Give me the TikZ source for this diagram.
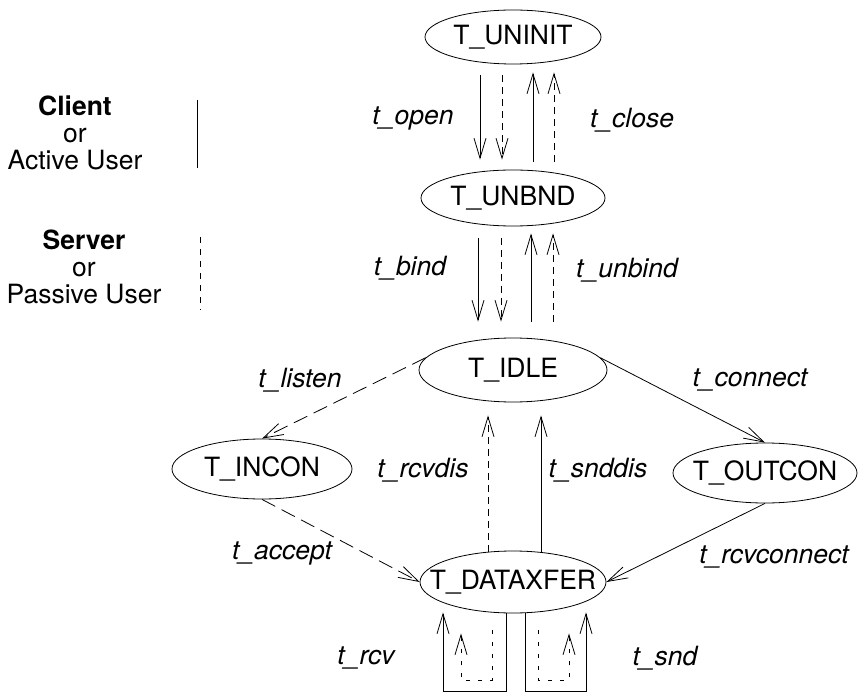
\documentclass[tikz,border=0pt]{standalone}
\usepackage{fontspec}
\setmainfont{TeX Gyre Heros}
\usetikzlibrary{shapes.geometric,arrows.meta,calc}

\begin{document}
\begin{tikzpicture}[x=1pt,y=-1pt,line width=0.8pt,
    font=\fontsize{26.5}{27}\selectfont,
    state/.style={draw,ellipse,inner sep=0pt},
    lbl/.style={font=\fontsize{26.5}{27}\selectfont\itshape},
    arr/.style={-{Straight Barb[length=20pt,width=12pt]}},
    shortdash/.style={dash pattern=on 7pt off 5pt},
    longdash/.style={dash pattern=on 15pt off 7pt},
    loopdash/.style={dash pattern=on 4pt off 8pt}]
    \useasboundingbox (0,0) rectangle (858,692);

    % states
    \node[state,minimum width=176pt,minimum height=54pt,label=center:T\_UNINIT] (uninit) at (513,37) {};
    \node[state,minimum width=184pt,minimum height=56pt,label=center:T\_UNBND] (unbnd) at (513,198) {};
    \node[state,minimum width=188pt,minimum height=64pt,label=center:T\_IDLE] (idle) at (513,370) {};
    \node[state,minimum width=180pt,minimum height=60pt,label=center:T\_INCON] (incon) at (262,469) {};
    \node[state,minimum width=184pt,minimum height=60pt,label=center:T\_OUTCON] (outcon) at (765,473) {};
    \node[state,minimum width=186pt,minimum height=62pt,label=center:T\_DATAXFER] (dataxfer) at (513,582) {};

    % t_open / t_close
    \draw[arr] ($(uninit.south)+(-33,11)$) -- ($(unbnd.north)+(-33,-10)$);
    \draw[arr,shortdash] ($(uninit.south)+(-11,11)$) -- ($(unbnd.north)+(-11,-10)$);
    \draw[arr] ($(unbnd.north)+(20,-8)$) -- ($(uninit.south)+(20,8)$);
    \draw[arr,shortdash] ($(unbnd.north)+(41,-8)$) -- ($(uninit.south)+(41,8)$);
    \node[lbl] (lopen) at (413,118) {t\_open};
    \node[lbl] (lclose) at (632,120) {t\_close};

    % t_bind / t_unbind
    \draw[arr] ($(unbnd.south)+(-35,12)$) -- ($(idle.north)+(-35,-16)$);
    \draw[arr,shortdash] ($(unbnd.south)+(-12,12)$) -- ($(idle.north)+(-12,-16)$);
    \draw[arr] ($(idle.north)+(18,-16)$) -- ($(unbnd.south)+(18,7)$);
    \draw[arr,shortdash] ($(idle.north)+(40,-16)$) -- ($(unbnd.south)+(40,7)$);
    \node[lbl] (lbind) at (410,268) {t\_bind};
    \node[lbl] (lunbind) at (627,270) {t\_unbind};

    % listen / connect / accept
    \draw[arr,longdash] (idle.172) -- (incon.north);
    \draw[arr] (idle.8) -- (outcon.north);
    \draw[arr,longdash] (incon.south) -- (dataxfer.west);
    \draw[arr] (outcon.south) -- (dataxfer.east);
    \node[lbl] (llisten) at (300,380) {t\_listen};
    \node[lbl] (lconnect) at (750,380) {t\_connect};
    \node[lbl] (laccept) at (282,553) {t\_accept};
    \node[lbl] (lrcvconnect) at (774,557) {t\_rcvconnect};

    % disconnect
    \draw[arr,shortdash] ($(dataxfer.north)+(-25,1)$) -- ($(idle.south)+(-25,13)$);
    \draw[arr] ($(dataxfer.north)+(28,1)$) -- ($(idle.south)+(28,13)$);
    \node[lbl] (lrcvdis) at (423,470) {t\_rcvdis};
    \node[lbl] (lsnddis) at (598,470) {t\_snddis};

    % data loops
    \draw[arr] ($(dataxfer.south)+(-7,0)$) -- ++(0,78) -| ($(dataxfer.south)+(-70,-1)$);
    \draw[arr,loopdash] ($(dataxfer.south)+(-21,17)$) -- ++(0,50) -| ($(dataxfer.south)+(-52,20)$);
    \draw[arr] ($(dataxfer.south)+(12,0)$) -- ++(0,78) -| ($(dataxfer.south)+(73,-1)$);
    \draw[arr,loopdash] ($(dataxfer.south)+(25,17)$) -- ++(0,50) -| ($(dataxfer.south)+(56,20)$);
    \node[lbl] (lrcv) at (366,658) {t\_rcv};
    \node[lbl] (lsnd) at (665,658) {t\_snd};

    % key
    \node[align=center] (client) at (75,133) {\textbf{Client}\\or\\Active User};
    \draw (197,100) -- (197,168);
    \node[align=center] (server) at (84,267) {\textbf{Server}\\or\\Passive User};
    \draw[dash pattern=on 6pt off 6pt] (200,237) -- (200,310);
\end{tikzpicture}
\end{document}
